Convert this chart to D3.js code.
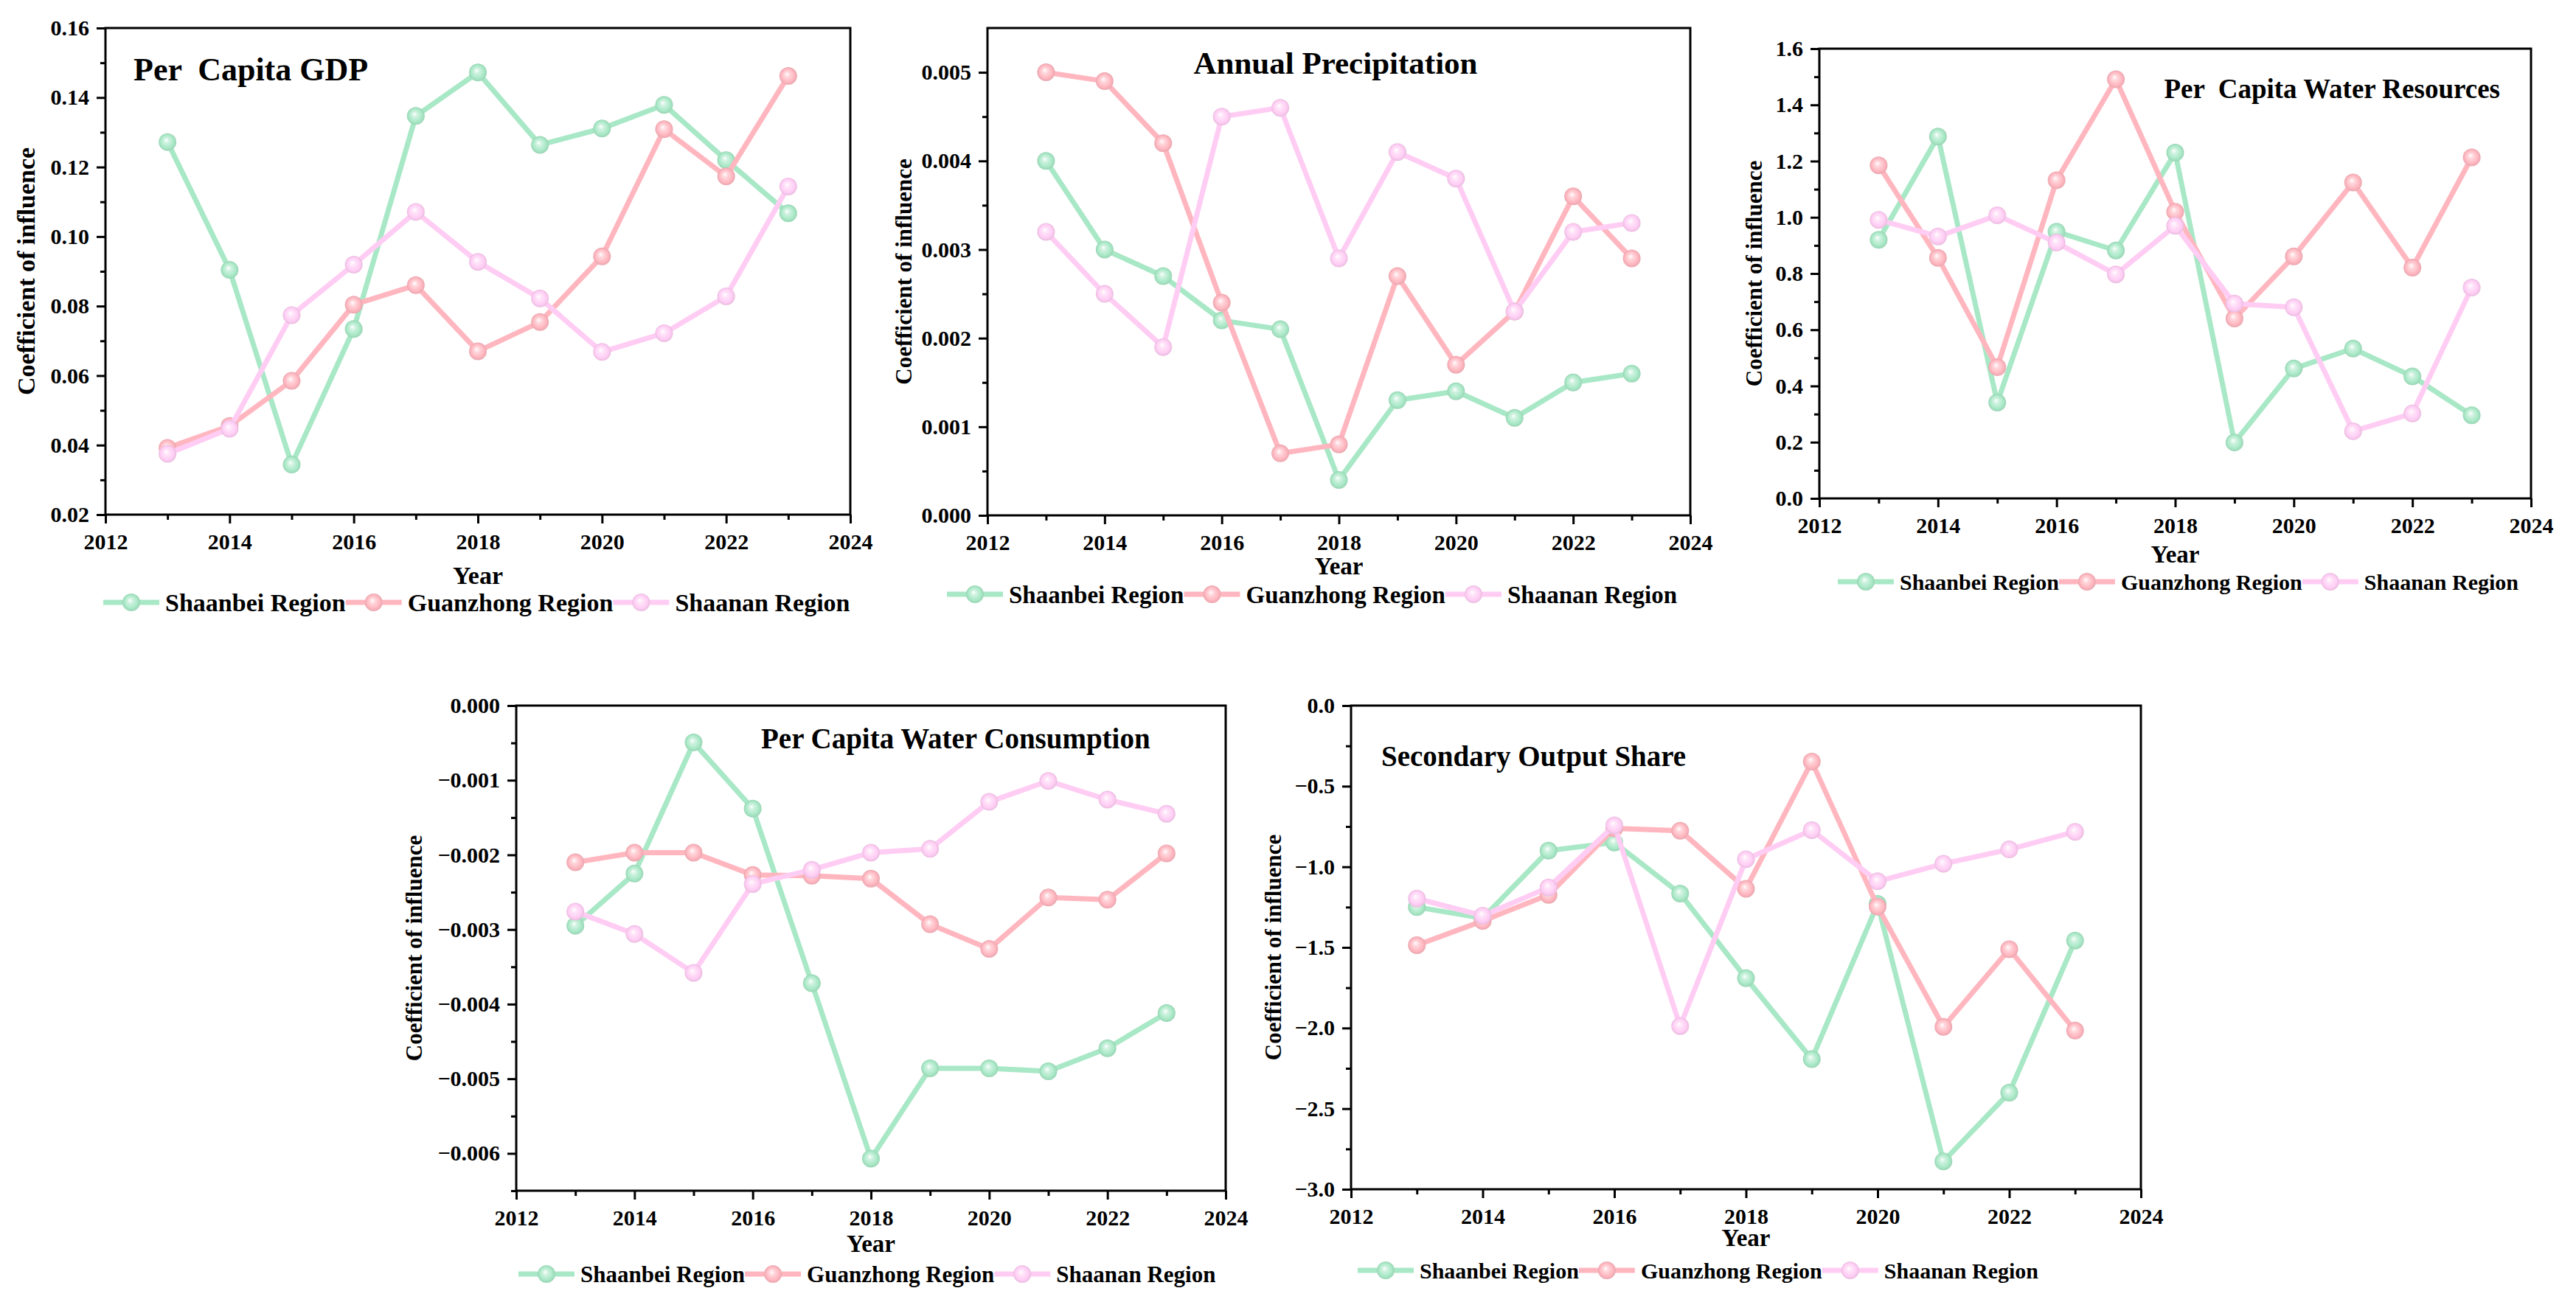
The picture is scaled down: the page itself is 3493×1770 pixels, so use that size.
<!DOCTYPE html>
<html>
<head>
<meta charset="utf-8">
<script src="https://cdn.jsdelivr.net/npm/d3@7"></script>
<style>
  html, body { margin: 0; padding: 0; background: #fff; }
  text { font-family: "Liberation Serif", "Times New Roman", serif; font-weight: bold; fill: #000; }
</style>
</head>
<body>
<script>
// ---------------- DATA ----------------
const years = [2013, 2014, 2015, 2016, 2017, 2018, 2019, 2020, 2021, 2022, 2023];
const seriesNames = ["Shaanbei Region", "Guanzhong Region", "Shaanan Region"];
const xTickLabels = [2012, 2014, 2016, 2018, 2020, 2022, 2024];
const xMinorTicks = [2013, 2015, 2017, 2019, 2021, 2023];

// Per Capita GDP
const gdpShaanbei  = [0.1272, 0.0904, 0.0344, 0.0734, 0.1347, 0.1472, 0.1264, 0.1311, 0.1379, 0.1220, 0.1067];
const gdpGuanzhong = [0.0392, 0.0455, 0.0585, 0.0804, 0.0860, 0.0670, 0.0754, 0.0943, 0.1309, 0.1173, 0.1462];
const gdpShaanan   = [0.0375, 0.0447, 0.0774, 0.0919, 0.1071, 0.0927, 0.0822, 0.0668, 0.0722, 0.0828, 0.1144];
const gdpTicks = [0.02, 0.04, 0.06, 0.08, 0.10, 0.12, 0.14, 0.16];
const gdpMinor = [0.03, 0.05, 0.07, 0.09, 0.11, 0.13, 0.15];

// Annual Precipitation
const precShaanbei  = [0.0040, 0.0030, 0.0027, 0.0022, 0.0021, 0.0004, 0.0013, 0.0014, 0.0011, 0.0015, 0.0016];
const precGuanzhong = [0.0050, 0.0049, 0.0042, 0.0024, 0.0007, 0.0008, 0.0027, 0.0017, 0.0023, 0.0036, 0.0029];
const precShaanan   = [0.0032, 0.0025, 0.0019, 0.0045, 0.0046, 0.0029, 0.0041, 0.0038, 0.0023, 0.0032, 0.0033];
const precTicks = [0.000, 0.001, 0.002, 0.003, 0.004, 0.005];
const precMinor = [0.0005, 0.0015, 0.0025, 0.0035, 0.0045];

// Per Capita Water Resources
const wresShaanbei  = [0.920, 1.287, 0.341, 0.949, 0.882, 1.230, 0.199, 0.462, 0.533, 0.434, 0.296];
const wresGuanzhong = [1.185, 0.856, 0.467, 1.132, 1.491, 1.020, 0.640, 0.861, 1.124, 0.821, 1.213];
const wresShaanan   = [0.991, 0.932, 1.007, 0.910, 0.797, 0.970, 0.693, 0.680, 0.239, 0.302, 0.750];
const wresTicks = [0.0, 0.2, 0.4, 0.6, 0.8, 1.0, 1.2, 1.4, 1.6];
const wresMinor = [0.1, 0.3, 0.5, 0.7, 0.9, 1.1, 1.3, 1.5];

// Per Capita Water Consumption
const wconShaanbei  = [-0.00295, -0.00225, -0.000495, -0.00138, -0.00372, -0.00607, -0.00486, -0.00486, -0.00490, -0.00459, -0.00412];
const wconGuanzhong = [-0.00210, -0.00197, -0.00197, -0.00227, -0.00228, -0.00232, -0.00293, -0.00326, -0.00257, -0.00260, -0.00198];
const wconShaanan   = [-0.00276, -0.00306, -0.00358, -0.00239, -0.00220, -0.00197, -0.00192, -0.00129, -0.00101, -0.00126, -0.00145];
const wconTicks = [0.000, -0.001, -0.002, -0.003, -0.004, -0.005, -0.006];
const wconMinor = [-0.0005, -0.0015, -0.0025, -0.0035, -0.0045, -0.0055, -0.0065];

// Secondary Output Share
const secShaanbei  = [-1.250, -1.318, -0.900, -0.849, -1.166, -1.691, -2.193, -1.230, -2.827, -2.401, -1.458];
const secGuanzhong = [-1.486, -1.336, -1.174, -0.761, -0.776, -1.136, -0.347, -1.247, -1.993, -1.511, -2.016];
const secShaanan   = [-1.197, -1.303, -1.128, -0.743, -1.988, -0.953, -0.773, -1.090, -0.981, -0.892, -0.783];
const secTicks = [0.0, -0.5, -1.0, -1.5, -2.0, -2.5, -3.0];
const secMinor = [-0.25, -0.75, -1.25, -1.75, -2.25, -2.75];

// ---------------- STYLE / LAYOUT ----------------
const colors = ["#a8e8c6", "#ffb6bf", "#ffcdf4"];
const FONT = '"Liberation Serif", "Times New Roman", serif';

const panels = [
  { title: "Per  Capita GDP", series: [gdpShaanbei, gdpGuanzhong, gdpShaanan],
    yDomain: [0.02, 0.16], ticks: gdpTicks, minor: gdpMinor, fmt: ".2f",
    box: [143, 38, 1153, 698], titleX: 181, titleY: 109, anchor: "start", titleSize: 44,
    yTitleX: 35, yTitleSize: 34, yearY: 792, yearSize: 34, legendY: 817, legendX: 140, legendSize: 34, tickSize: 30 },
  { title: "Annual Precipitation", series: [precShaanbei, precGuanzhong, precShaanan],
    yDomain: [0, 0.0055], ticks: precTicks, minor: precMinor, fmt: ".3f",
    box: [1339, 38, 2292, 699], titleX: 1811, titleY: 100, anchor: "middle", titleSize: 43,
    yTitleX: 1225, yTitleSize: 31, yearY: 779, yearSize: 33, legendY: 806, legendX: 1284, legendSize: 33, tickSize: 30 },
  { title: "Per  Capita Water Resources", series: [wresShaanbei, wresGuanzhong, wresShaanan],
    yDomain: [0, 1.6], ticks: wresTicks, minor: wresMinor, fmt: ".1f",
    box: [2467, 66, 3432, 676], titleX: 3390, titleY: 133, anchor: "end", titleSize: 37,
    yTitleX: 2378, yTitleSize: 31, yearY: 763, yearSize: 33, legendY: 789, legendX: 2492, legendSize: 30, tickSize: 30 },
  { title: "Per Capita Water Consumption", series: [wconShaanbei, wconGuanzhong, wconShaanan],
    yDomain: [-0.0065, 0], ticks: wconTicks, minor: wconMinor, fmt: ".3f",
    box: [700, 957, 1662, 1615], titleX: 1032, titleY: 1015, anchor: "start", titleSize: 39,
    yTitleX: 561, yTitleSize: 31, yearY: 1698, yearSize: 33, legendY: 1728, legendX: 703, legendSize: 31, tickSize: 30 },
  { title: "Secondary Output Share", series: [secShaanbei, secGuanzhong, secShaanan],
    yDomain: [-3, 0], ticks: secTicks, minor: secMinor, fmt: ".1f",
    box: [1832, 957, 2903, 1613], titleX: 1873, titleY: 1039, anchor: "start", titleSize: 39,
    yTitleX: 1726, yTitleSize: 31, yearY: 1690, yearSize: 33, legendY: 1723, legendX: 1841, legendSize: 30, tickSize: 30 }
];

// ---------------- DRAW ----------------
const svg = d3.select("body").append("svg")
  .attr("width", 3493).attr("height", 1770)
  .style("display", "block").style("background", "#fff");

const defs = svg.append("defs");
colors.forEach((c, i) => {
  const gr = defs.append("radialGradient").attr("id", "ball" + i)
    .attr("cx", "50%").attr("cy", "50%").attr("r", "50%")
    .attr("fx", "42%").attr("fy", "38%");
  gr.append("stop").attr("offset", "0%").attr("stop-color", "#ffffff");
  gr.append("stop").attr("offset", "30%").attr("stop-color", d3.interpolateRgb(c, "#ffffff")(0.45));
  gr.append("stop").attr("offset", "75%").attr("stop-color", c);
  gr.append("stop").attr("offset", "100%").attr("stop-color", d3.color(c).darker(0.25));
});

const LW = 7, R = 12;

panels.forEach(p => {
  const [L, T, Rt, B] = p.box;
  const x = d3.scaleLinear().domain([2012, 2024]).range([L, Rt]);
  const y = d3.scaleLinear().domain(p.yDomain).range([B, T]);
  const g = svg.append("g");

  // frame
  g.append("rect").attr("x", L).attr("y", T).attr("width", Rt - L).attr("height", B - T)
    .attr("fill", "none").attr("stroke", "#000").attr("stroke-width", 3);

  // y axis
  const yAx = g.append("g").attr("transform", `translate(${L},0)`)
    .call(d3.axisLeft(y).tickValues(p.ticks).tickFormat(d3.format(p.fmt))
      .tickSize(12).tickSizeOuter(0).tickPadding(10));
  const yMin = g.append("g").attr("transform", `translate(${L},0)`)
    .call(d3.axisLeft(y).tickValues(p.minor).tickFormat("").tickSize(7).tickSizeOuter(0));
  // x axis
  const xAx = g.append("g").attr("transform", `translate(0,${B})`)
    .call(d3.axisBottom(x).tickValues(xTickLabels).tickFormat(d3.format("d"))
      .tickSize(12).tickSizeOuter(0).tickPadding(12));
  const xMin = g.append("g").attr("transform", `translate(0,${B})`)
    .call(d3.axisBottom(x).tickValues(xMinorTicks).tickFormat("").tickSize(7).tickSizeOuter(0));

  [yAx, yMin, xAx, xMin].forEach(a => {
    a.attr("font-family", FONT).attr("font-size", p.tickSize);
    a.select(".domain").remove();
    a.selectAll("line").attr("stroke", "#000").attr("stroke-width", 3);
    a.selectAll("text").style("font-family", FONT).style("font-size", p.tickSize + "px")
      .style("font-weight", "bold").attr("fill", "#000");
  });
  xAx.selectAll("text").attr("dy", null).attr("y", 47).attr("dominant-baseline", "auto");

  // series
  const line = d3.line().x((d, i) => x(years[i])).y(d => y(d));
  p.series.forEach((vals, si) => {
    g.append("path").datum(vals).attr("d", line)
      .attr("fill", "none").attr("stroke", colors[si]).attr("stroke-width", LW)
      .attr("stroke-linejoin", "round");
    g.selectAll(null).data(vals).enter().append("circle")
      .attr("cx", (d, i) => x(years[i])).attr("cy", d => y(d)).attr("r", R)
      .attr("fill", `url(#ball${si})`);
  });

  // title
  g.append("text").attr("x", p.titleX).attr("y", p.titleY)
    .attr("text-anchor", p.anchor).style("font-size", p.titleSize + "px")
    .style("white-space", "pre").text(p.title);

  // axis titles
  g.append("text").attr("transform", `translate(${p.yTitleX},${(T + B) / 2}) rotate(-90)`)
    .attr("text-anchor", "middle").attr("dy", "0.35em").style("font-size", p.yTitleSize + "px")
    .text("Coefficient of influence");
  g.append("text").attr("x", (L + Rt) / 2).attr("y", p.yearY)
    .attr("text-anchor", "middle").style("font-size", p.yearSize + "px").text("Year");

  // legend
  let cx = p.legendX;
  const lineLen = 76;
  seriesNames.forEach((name, si) => {
    g.append("line").attr("x1", cx).attr("x2", cx + lineLen)
      .attr("y1", p.legendY).attr("y2", p.legendY)
      .attr("stroke", colors[si]).attr("stroke-width", LW);
    g.append("circle").attr("cx", cx + lineLen / 2).attr("cy", p.legendY).attr("r", R)
      .attr("fill", `url(#ball${si})`);
    const t = g.append("text").attr("x", cx + lineLen + 8).attr("y", p.legendY)
      .attr("dy", "0.35em").style("font-size", p.legendSize + "px").text(name);
    cx = cx + lineLen + 8 + t.node().getComputedTextLength();
  });
});
</script>
</body>
</html>
